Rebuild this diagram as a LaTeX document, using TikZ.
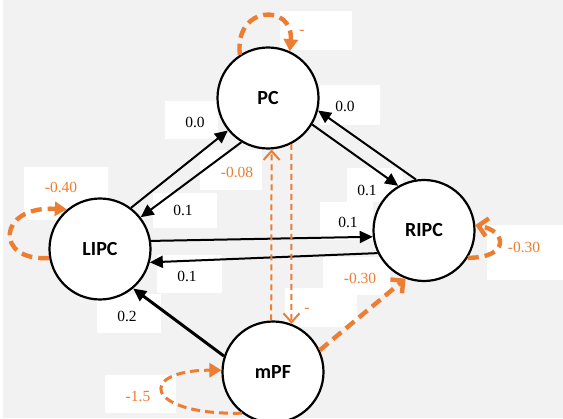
\documentclass[tikz,border=0pt]{standalone}
\usepackage{fontspec}
\setmainfont{Liberation Serif}
\newfontfamily\calib{Carlito}
\usetikzlibrary{arrows.meta}
\definecolor{orng}{HTML}{ED7D31}
\definecolor{bgray}{HTML}{F2F2F2}
\begin{document}
\begin{tikzpicture}
[x=1pt,y=-1pt,
state/.style = {draw, circle, fill=white, line width=2.2pt, minimum size=101pt, inner sep=0pt, font=\calib\bfseries\fontsize{20}{24}\selectfont},
num/.style = {inner sep=0pt, font=\fontsize{15.5}{18}\selectfont},
onum/.style = {num, text=orng},
edge/.style = {line width=2pt, -{Triangle[length=13pt,width=12pt]}},
othin/.style = {draw=orng, line width=2pt, dash pattern=on 6pt off 4pt, -{Straight Barb[length=9pt,width=16pt]}},
othick/.style = {draw=orng, line width=4.4pt, dash pattern=on 11pt off 6pt},
loopmid/.style = {draw=orng, line width=3pt, dash pattern=on 9pt off 5pt},
fulltip/.style = {-{Triangle[length=12pt,width=14pt]}},
bartip/.style = {-{Straight Barb[length=9pt,width=18pt]}},]
\useasboundingbox (0,0) rectangle (563,419);
\fill[bgray] (3,0) rectangle (563,418);
\fill[white] (280,11) rectangle (352,50);
\fill[white] (165,101) rectangle (218,139);
\fill[white] (200,150) rectangle (262,190);
\fill[white] (320,85) rectangle (380,125);
\fill[white] (347,168) rectangle (403,202);
\fill[white] (320,202) rectangle (373,240);
\fill[white] (153,193) rectangle (217,228);
\fill[white] (157,255) rectangle (222,293);
\fill[white] (97,294) rectangle (161,333);
\fill[white] (105,375) rectangle (176,413);
\fill[white] (24,167) rectangle (108,220);
\fill[white] (487,225) rectangle (563,280);
\fill[white] (323,257) rectangle (390,295);
\fill[white] (285,288) rectangle (357,327);
\node (PC) at (268,98)[state] {PC};
\node (LIPC) at (100,249)[state] {LIPC};
\node (RIPC) at (424,230.5)[state] {RIPC};
\node (mPF) at (273,372)[state] {mPF};
\node (tPCs) at (302,32)[onum] {-};
\node (tLP) at (195,122)[num] {0.0};
\node (tPL) at (183,210)[num] {0.1};
\node (tMP) at (237,172)[onum] {-0.08};
\node (tRP) at (345,106)[num] {0.0};
\node (tPR) at (367,190)[num] {0.1};
\node (tLR) at (348,222)[num] {0.1};
\node (tRL) at (187,276)[num] {0.1};
\node (tLs) at (61,187)[onum] {-0.40};
\node (tRs) at (524,247)[onum] {-0.30};
\node (tMR) at (360,278)[onum] {-0.30};
\node (tPM) at (307,310)[onum] {-};
\node (tML) at (127,316)[num] {0.2};
\node (tMs) at (138,396)[onum] {-1.5};
\draw[edge] (LIPC.53)--(PC.219);
\draw[edge] (PC.239)--(LIPC.38);
\draw[edge] (PC.-31)--(RIPC.120);
\draw[edge] (RIPC.99)--(PC.-14);
\draw[edge] (LIPC.9)--(RIPC.187);
\draw[edge] (RIPC.206)--(LIPC.345);
\draw[edge, line width=3pt] (mPF.162)--(LIPC.310);
\draw[othin] (mPF.92)--(PC.274);
\draw[othin] (PC.297)--(mPF.69);
\draw[othick, bartip] (mPF.25)--(RIPC.249);
\draw[othick, fulltip] (PC.123) .. controls +(-6,-50) and +(4,-48) .. (PC.65);
\draw[othick, fulltip] (LIPC.190) .. controls +(-55,4) and +(-70,-4) .. (LIPC.130);
\draw[othick, bartip] (RIPC.-32) .. controls +(42,0) and +(32,6) .. (RIPC.6);
\draw[loopmid, fulltip] (mPF.233) .. controls +(-98,2) and +(-85,0) .. (mPF.178);
\end{tikzpicture}
\end{document}
